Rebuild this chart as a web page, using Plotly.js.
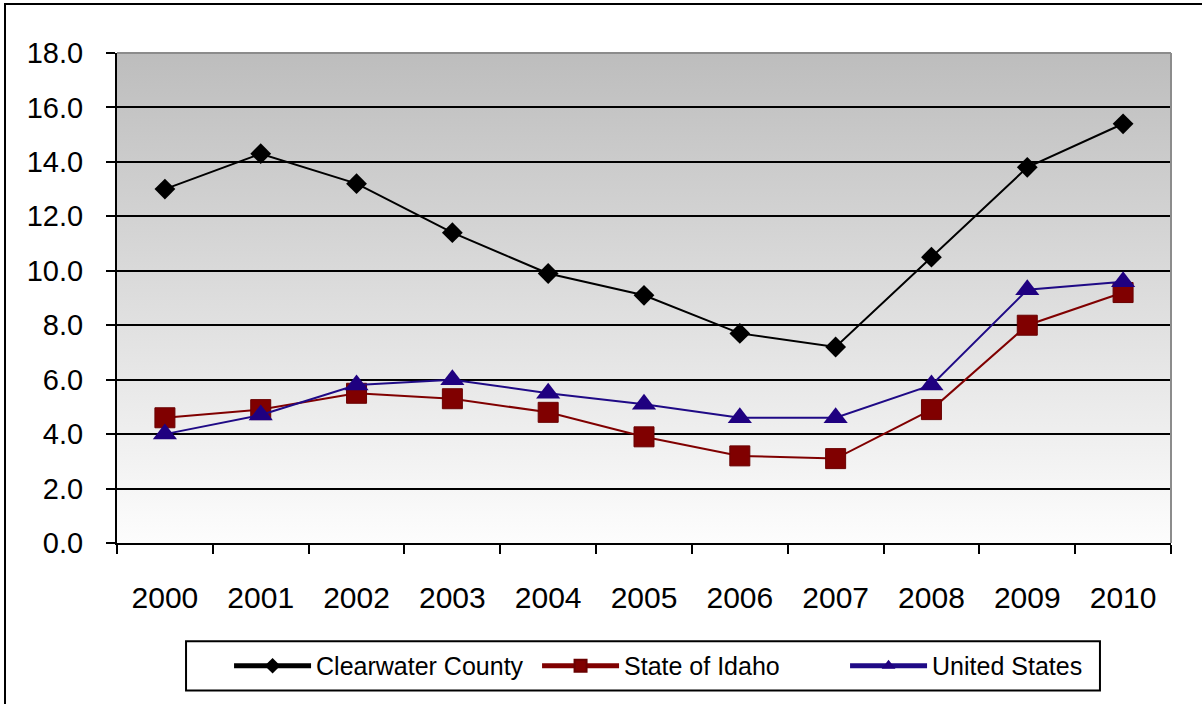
<!DOCTYPE html>
<html>
<head>
<meta charset="utf-8">
<script src="https://cdn.plot.ly/plotly-3.0.1.min.js"></script>
<style>
  html, body { margin: 0; padding: 0; background: #ffffff; }
  #chart { position: absolute; left: 0; top: 0; width: 1202px; height: 704px; }
  #frame { position: absolute; left: 4px; top: 3px; width: 1220px; height: 740px;
           border: 2px solid #000; pointer-events: none; }
</style>
</head>
<body>
<div id="chart"></div>
<div id="frame"></div>
<script>
// Annual unemployment rate (%), 2000-2010
const years = ['2000', '2001', '2002', '2003', '2004', '2005', '2006', '2007', '2008', '2009', '2010'];
const clearwater = [13.0, 14.3, 13.2, 11.4, 9.9, 9.1, 7.7, 7.2, 10.5, 13.8, 15.4];
const idaho = [4.6, 4.9, 5.5, 5.3, 4.8, 3.9, 3.2, 3.1, 4.9, 8.0, 9.2];
const unitedStates = [4.0, 4.7, 5.8, 6.0, 5.5, 5.1, 4.6, 4.6, 5.8, 9.3, 9.6];
const seriesNames = ['Clearwater County', 'State of Idaho', 'United States'];

const FONT = '"Liberation Sans", Arial, sans-serif';

// Vertical grey-to-white fill behind the plotting area
const gradientSvg =
  '<svg xmlns="http://www.w3.org/2000/svg" width="100" height="100" preserveAspectRatio="none">' +
  '<defs><linearGradient id="g" x1="0" y1="0" x2="0" y2="1">' +
  '<stop offset="0" stop-color="#bdbdbd"/><stop offset="1" stop-color="#fdfdfd"/>' +
  '</linearGradient></defs><rect width="100" height="100" fill="url(#g)"/></svg>';
const gradientUri = 'data:image/svg+xml;charset=utf-8,' + encodeURIComponent(gradientSvg);

const traces = [
  {
    x: years, y: clearwater, name: seriesNames[0], type: 'scatter', mode: 'lines+markers',
    line: { color: '#000000', width: 2 },
    marker: { symbol: 'diamond', size: 16, color: '#000000' }
  },
  {
    x: years, y: idaho, name: seriesNames[1], type: 'scatter', mode: 'lines+markers',
    line: { color: '#800000', width: 2 },
    marker: { symbol: 'square', size: 20, color: '#800000', line: { color: '#6a0000', width: 1 } }
  },
  {
    x: years, y: unitedStates, name: seriesNames[2], type: 'scatter', mode: 'lines+markers',
    line: { color: '#1f0a86', width: 2 },
    marker: { symbol: 'triangle-up', size: 21, color: '#1f0080' }
  }
];

const layout = {
  width: 1202,
  height: 704,
  margin: { l: 117, r: 31, t: 53, b: 161 },
  paper_bgcolor: '#ffffff',
  plot_bgcolor: 'rgba(0,0,0,0)',
  font: { family: FONT, color: '#000000' },
  showlegend: true,
  legend: {
    orientation: 'h',
    xref: 'container', yref: 'container',
    x: 0.2255 - 42 / 1202, xanchor: 'left',
    y: 0.054, yanchor: 'middle',
    bgcolor: 'rgba(0,0,0,0)',
    borderwidth: 0,
    itemwidth: 77,
    itemsizing: 'constant',
    entrywidth: 216,
    font: { family: FONT, size: 25, color: '#000000' }
  },
  xaxis: {
    type: 'category',
    range: [-0.5, 10.5],
    tickson: 'boundaries',
    ticks: 'outside', ticklen: 9, tickwidth: 2, tickcolor: '#000000',
    showline: true, linecolor: '#000000', linewidth: 2,
    showgrid: false, zeroline: false,
    ticklabelstandoff: 27,
    tickfont: { family: FONT, size: 30, color: '#000000' }
  },
  yaxis: {
    range: [0, 18],
    dtick: 2,
    tickformat: '.1f',
    ticks: 'outside', ticklen: 9, tickwidth: 2, tickcolor: '#000000',
    showline: true, linecolor: '#000000', linewidth: 2,
    showgrid: true, gridcolor: '#000000', gridwidth: 2,
    zeroline: false,
    ticklabelstandoff: 17,
    tickfont: { family: FONT, size: 29, color: '#000000' }
  },
  images: [{
    source: gradientUri,
    xref: 'paper', yref: 'paper',
    x: 0, y: 1, sizex: 1, sizey: 1,
    xanchor: 'left', yanchor: 'top',
    sizing: 'stretch', layer: 'below'
  }],
  shapes: [
    // grey border on the top and right of the plotting area
    { type: 'line', xref: 'paper', yref: 'paper', x0: 0, x1: 1, y0: 1, y1: 1,
      line: { color: '#8c8c8c', width: 2 }, layer: 'above' },
    { type: 'line', xref: 'paper', yref: 'paper', x0: 1, x1: 1, y0: 0, y1: 1,
      line: { color: '#8c8c8c', width: 2 }, layer: 'above' },
    // legend box
    { type: 'rect', xref: 'paper', yref: 'paper',
      x0: 0.0655, x1: 0.9326, y0: -0.3008, y1: -0.2007,
      line: { color: '#000000', width: 2 }, fillcolor: 'rgba(0,0,0,0)', layer: 'above' }
  ]
};

Plotly.newPlot('chart', traces, layout, { displayModeBar: false, staticPlot: true });
</script>
</body>
</html>
